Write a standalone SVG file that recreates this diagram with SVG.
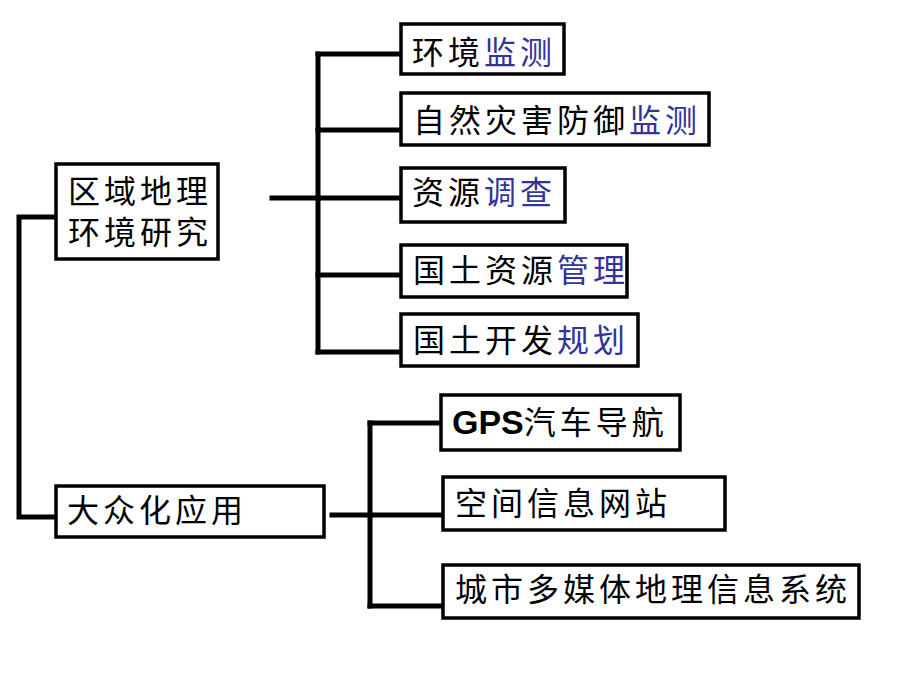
<svg xmlns="http://www.w3.org/2000/svg" width="920" height="690" viewBox="0 0 920 690">
<style>
.box{fill:#fff;stroke:#000;stroke-width:3.5}
.ln{fill:none;stroke:#000;stroke-width:5;stroke-linecap:square;stroke-linejoin:miter}
.t{font-family:"Noto Sans CJK SC","Noto Sans",sans-serif;font-size:32px;letter-spacing:4px;fill:#000}
.b{fill:#333399}
.g{font-family:"Liberation Sans",Arial,sans-serif;font-weight:bold;font-size:34px;letter-spacing:0}
</style>
<rect width="920" height="690" fill="#fff"/>
<g id="connectors">
<polyline class="ln" points="56,217 19,217 19,517 56,517"/>
<line class="ln" x1="272" y1="198" x2="318" y2="198"/>
<line class="ln" x1="318" y1="54" x2="318" y2="352"/>
<line class="ln" x1="318" y1="54" x2="400" y2="54"/>
<line class="ln" x1="318" y1="130" x2="400" y2="130"/>
<line class="ln" x1="318" y1="198" x2="400" y2="198"/>
<line class="ln" x1="318" y1="275" x2="400" y2="275"/>
<line class="ln" x1="318" y1="352" x2="400" y2="352"/>
<line class="ln" x1="332" y1="515" x2="370" y2="515"/>
<line class="ln" x1="370" y1="423" x2="370" y2="606"/>
<line class="ln" x1="370" y1="423" x2="440" y2="423"/>
<line class="ln" x1="370" y1="515" x2="443" y2="515"/>
<line class="ln" x1="370" y1="606" x2="443" y2="606"/>
</g>
<g id="n_quyu">
<rect class="box" x="56" y="164" width="162" height="95"/>
<text class="t" x="68" y="203">区域地理</text>
<text class="t" x="68" y="244">环境研究</text>
</g>
<g id="n_dazhong">
<rect class="box" x="56" y="486" width="268" height="51"/>
<text class="t" x="67" y="522">大众化应用</text>
</g>
<g id="n_huanjing">
<rect class="box" x="401" y="24" width="163" height="50"/>
<text class="t" x="412" y="64">环境<tspan class="b">监测</tspan></text>
</g>
<g id="n_zairan">
<rect class="box" x="401" y="93" width="308" height="52"/>
<text class="t" x="413" y="132">自然灾害防御<tspan class="b">监测</tspan></text>
</g>
<g id="n_ziyuan">
<rect class="box" x="401" y="168" width="164" height="54"/>
<text class="t" x="412" y="204">资源<tspan class="b">调查</tspan></text>
</g>
<g id="n_guotu1">
<rect class="box" x="401" y="245" width="226" height="52"/>
<text class="t" x="413" y="282">国土资源<tspan class="b">管理</tspan></text>
</g>
<g id="n_guotu2">
<rect class="box" x="401" y="314" width="237" height="52"/>
<text class="t" x="413" y="352">国土开发<tspan class="b">规划</tspan></text>
</g>
<g id="n_gps">
<rect class="box" x="441" y="395" width="239" height="55"/>
<text class="t" x="452" y="434"><tspan class="g">GPS</tspan>汽车导航</text>
</g>
<g id="n_kongjian">
<rect class="box" x="443" y="477" width="282" height="53"/>
<text class="t" x="455" y="515">空间信息网站</text>
</g>
<g id="n_chengshi">
<rect class="box" x="443" y="565" width="416" height="53"/>
<text class="t" x="455" y="601">城市多媒体地理信息系统</text>
</g>
</svg>
